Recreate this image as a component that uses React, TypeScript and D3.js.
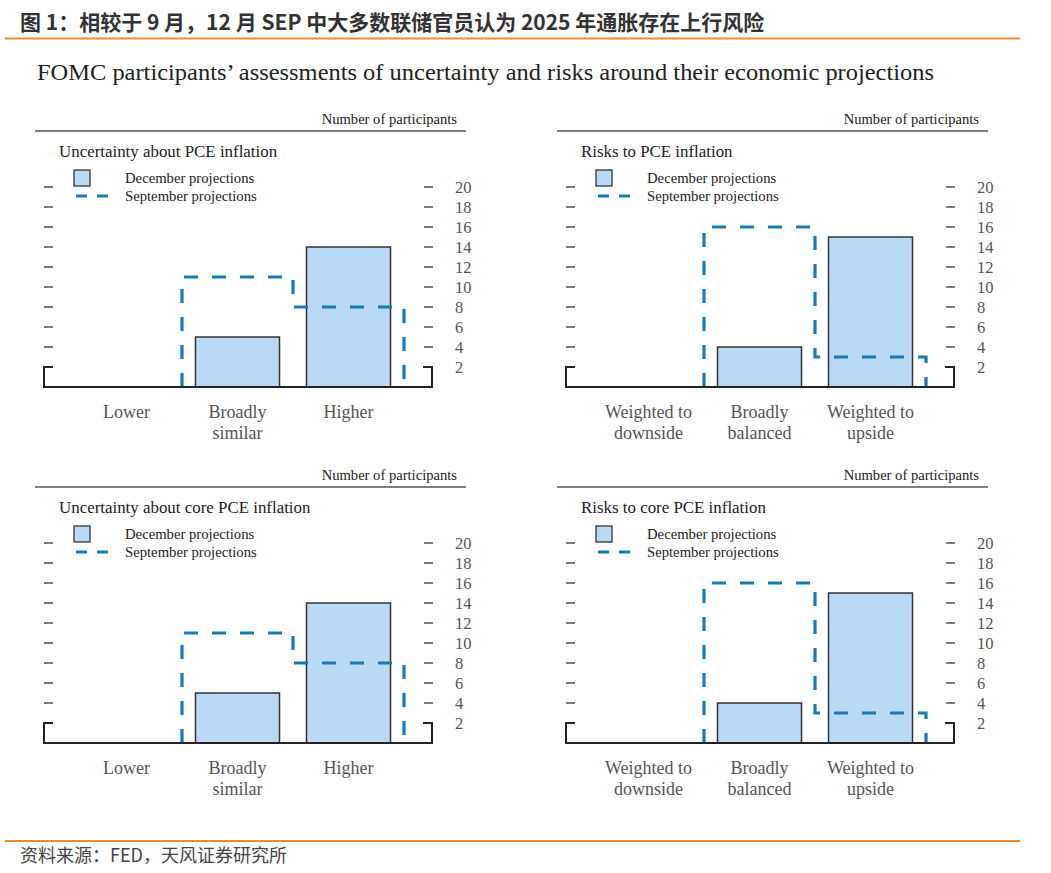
import * as d3 from 'd3';

const W = 1051;
const H = 873;

// categories
const uncertaintyCategories = [['Lower'], ['Broadly', 'similar'], ['Higher']];
const riskCategories = [['Weighted to', 'downside'], ['Broadly', 'balanced'], ['Weighted to', 'upside']];

// number of participants
const decemberPce = [0, 5, 14];
const septemberPce = [0, 11, 8];
const decemberPceRisk = [0, 4, 15];
const septemberPceRisk = [0, 16, 3];
const decemberCore = [0, 5, 14];
const septemberCore = [0, 11, 8];
const decemberCoreRisk = [0, 4, 15];
const septemberCoreRisk = [0, 16, 3];

const yTicks = [2, 4, 6, 8, 10, 12, 14, 16, 18, 20];

const serif = '"Liberation Serif", "Times New Roman", serif';
const cjk = '"Noto Sans CJK SC", sans-serif';
const BAR_FILL = '#bad9f5';
const SEPT = '#137cb3';

interface PanelProps {
  x: number;
  y: number;
  title: string;
  categories: string[][];
  december: number[];
  september: number[];
}

function Panel({ x, y, title, categories, december, september }: PanelProps) {
  const baseline = 256;
  const axisW = 388;
  const keys = categories.map((c) => c.join(' '));
  const xs = d3.scaleBand().domain(keys).range([27, 360]).paddingInner(0).paddingOuter(0);
  const ys = d3.scaleLinear().domain([0, 20]).range([baseline, baseline - 200]);
  const barW = 84;

  // step outline for September
  const first = september.findIndex((v) => v > 0);
  const pts: [number, number][] = [];
  if (first >= 0) {
    pts.push([xs(keys[first])!, 0]);
    for (let i = first; i < keys.length; i++) {
      pts.push([xs(keys[i])!, september[i]]);
      pts.push([xs(keys[i])! + xs.bandwidth(), september[i]]);
    }
    pts.push([xs(keys[keys.length - 1])! + xs.bandwidth(), 0]);
  }
  const line = d3.line<[number, number]>().x((d) => d[0]).y((d) => ys(d[1]));

  return (
    <g transform={`translate(${x},${y})`}>
      <text x={413} y={-7} textAnchor="end" fontFamily={serif} fontSize={14.6} fill="#222">
        Number of participants
      </text>
      <line x1={-9} x2={422} y1={0} y2={0} stroke="#555" strokeWidth={1.5} />
      <text x={15} y={26} fontFamily={serif} fontSize={16.9} fill="#222">
        {title}
      </text>
      {/* legend */}
      <rect x={30} y={39} width={16} height={16} fill={BAR_FILL} stroke="#333" strokeWidth={1.3} />
      <text x={81} y={51.5} fontFamily={serif} fontSize={14.7} fill="#222">December projections</text>
      <line x1={32} x2={64} y1={65} y2={65} stroke={SEPT} strokeWidth={3} strokeDasharray="11 10" />
      <text x={81} y={69.5} fontFamily={serif} fontSize={14.7} fill="#222">September projections</text>

      {/* bars */}
      {december.map((v, i) => (
        <rect
          key={i}
          x={xs(keys[i])! + (xs.bandwidth() - barW) / 2}
          y={ys(v)}
          width={barW}
          height={baseline - ys(v)}
          fill={BAR_FILL}
          stroke={v > 0 ? '#333' : 'none'}
          strokeWidth={1.5}
        />
      ))}
      <path d={line(pts) ?? ''} fill="none" stroke={SEPT} strokeWidth={3.2} strokeDasharray="14 14" />

      {/* axis */}
      {yTicks.filter((t) => t > 2).map((t) => (
        <g key={t}>
          <line x1={0} x2={9} y1={ys(t)} y2={ys(t)} stroke="#333" strokeWidth={1.3} />
          <line x1={380} x2={389} y1={ys(t)} y2={ys(t)} stroke="#333" strokeWidth={1.3} />
        </g>
      ))}
      <path d={`M9,${ys(2)}H0V${baseline}H${axisW}V${ys(2)}H${axisW - 9}`} fill="none" stroke="#222" strokeWidth={2} />
      {yTicks.map((t) => (
        <text key={t} x={411} y={ys(t)} dy="0.35em" fontFamily={serif} fontSize={16.5} fill="#555">
          {t}
        </text>
      ))}
      {categories.map((c, i) => (
        <text
          key={i}
          x={xs(keys[i])! + xs.bandwidth() / 2}
          y={31 + baseline}
          textAnchor="middle"
          fontFamily={serif}
          fontSize={18}
          fill="#555"
        >
          {c.map((s, j) => (
            <tspan key={j} x={xs(keys[i])! + xs.bandwidth() / 2} dy={j === 0 ? 0 : 20.5}>
              {s}
            </tspan>
          ))}
        </text>
      ))}
    </g>
  );
}

export default function App() {
  return (
    <div style={{ position: 'absolute', left: 0, top: 0, width: W, height: H, background: '#fff' }}>
      <svg width={W} height={H} viewBox={`0 0 ${W} ${H}`}>
        <rect width={W} height={H} fill="#fff" />
        <text x={20} y={30} fontFamily={cjk} fontWeight={700} fontSize={21} fill="#333">
          图 1：相较于 9 月，12 月 SEP 中大多数联储官员认为 2025 年通胀存在上行风险
        </text>
        <line x1={5} x2={1020} y1={38.5} y2={38.5} stroke="#f08a2c" strokeWidth={2} />
        <text x={37} y={80} fontFamily={serif} fontSize={23} textLength={897} lengthAdjust="spacingAndGlyphs" fill="#222">
          FOMC participants’ assessments of uncertainty and risks around their economic projections
        </text>

        <Panel x={44} y={131} title="Uncertainty about PCE inflation" categories={uncertaintyCategories} december={decemberPce} september={septemberPce} />
        <Panel x={566} y={131} title="Risks to PCE inflation" categories={riskCategories} december={decemberPceRisk} september={septemberPceRisk} />
        <Panel x={44} y={487} title="Uncertainty about core PCE inflation" categories={uncertaintyCategories} december={decemberCore} september={septemberCore} />
        <Panel x={566} y={487} title="Risks to core PCE inflation" categories={riskCategories} december={decemberCoreRisk} september={septemberCoreRisk} />

        <line x1={5} x2={1020} y1={841} y2={841} stroke="#f08a2c" strokeWidth={2} />
        <text x={20} y={862} fontFamily={cjk} fontSize={18} fill="#444">
          资料来源：FED，天风证券研究所
        </text>
      </svg>
    </div>
  );
}
